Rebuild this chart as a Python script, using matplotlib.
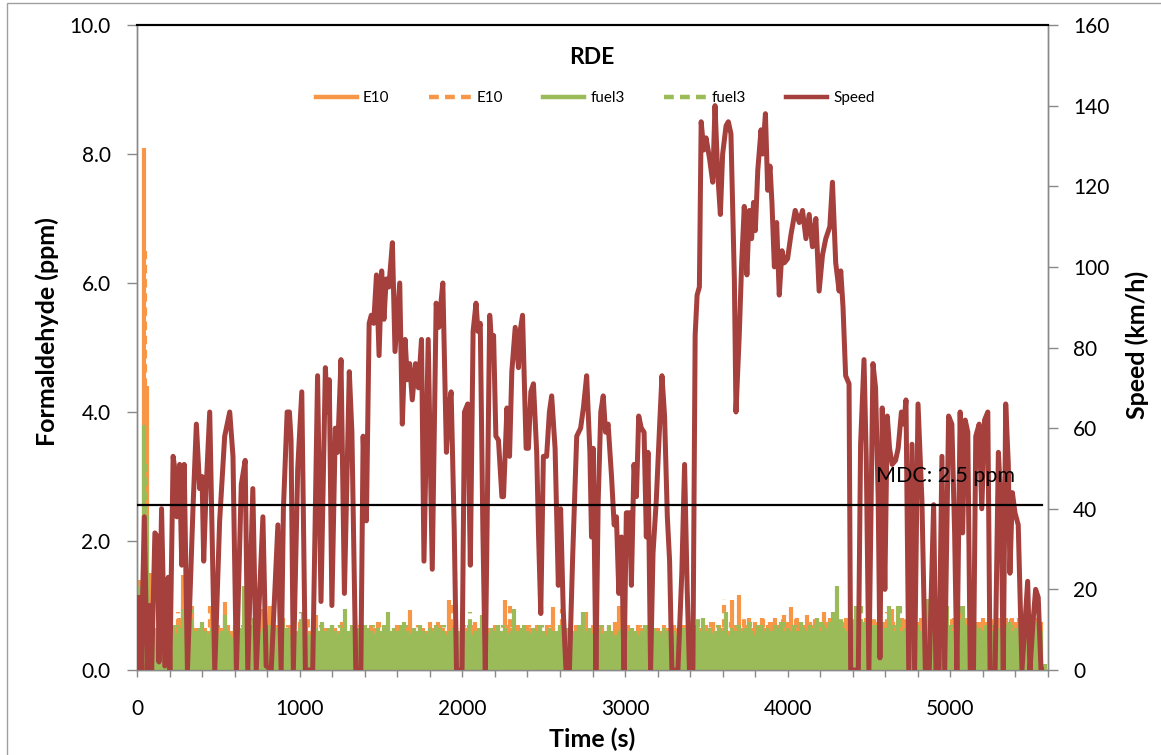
import numpy as np
import matplotlib
matplotlib.use("Agg")
import matplotlib.pyplot as plt
from matplotlib.lines import Line2D
from matplotlib.patches import Rectangle

plt.rcParams['font.family'] = ['Lato', 'DejaVu Sans']

ORANGE = '#F79646'
GREEN = '#9BBB59'
RED = '#A5403D'

# ---------------- data ----------------
speed_time = [0, 5, 15, 25, 45, 62, 79, 90, 110, 127, 135, 151, 171, 192, 202, 222, 232, 245, 262, 275,
              290, 310, 345, 365, 385, 400, 410, 425, 447, 478, 508, 539, 570, 590, 611, 641, 665, 681, 712, 733,
              774, 794, 825, 866, 886, 900, 923, 937, 947, 961, 988, 1013, 1035, 1080, 1110, 1131, 1158, 1170, 1182, 1198,
              1219, 1233, 1254, 1275, 1305, 1321, 1345, 1376, 1390, 1410, 1427, 1440, 1455, 1472, 1488, 1504, 1518, 1532, 1548, 1570,
              1586, 1615, 1631, 1648, 1662, 1676, 1692, 1712, 1730, 1749, 1764, 1790, 1815, 1839, 1855, 1866, 1880, 1902, 1917, 1931,
              1950, 1964, 1998, 2013, 2033, 2049, 2066, 2084, 2096, 2110, 2126, 2141, 2168, 2182, 2192, 2206, 2222, 2243, 2253, 2274,
              2290, 2304, 2325, 2345, 2355, 2370, 2392, 2406, 2421, 2437, 2457, 2468, 2482, 2498, 2518, 2535, 2549, 2570, 2590, 2604,
              2620, 2637, 2658, 2678, 2703, 2727, 2744, 2764, 2784, 2794, 2804, 2821, 2835, 2851, 2866, 2880, 2896, 2917, 2933, 2947,
              2962, 2978, 2994, 3008, 3029, 3039, 3055, 3070, 3084, 3100, 3117, 3131, 3141, 3157, 3172, 3192, 3213, 3227, 3243, 3260,
              3274, 3288, 3325, 3349, 3366, 3382, 3396, 3417, 3431, 3443, 3457, 3468, 3484, 3498, 3519, 3539, 3553, 3570, 3586, 3600,
              3621, 3635, 3651, 3672, 3682, 3702, 3717, 3733, 3749, 3764, 3778, 3790, 3801, 3816, 3836, 3846, 3863, 3877, 3891, 3903,
              3918, 3932, 3948, 3965, 3979, 3999, 4020, 4046, 4071, 4091, 4112, 4132, 4152, 4173, 4193, 4214, 4234, 4259, 4275, 4295,
              4316, 4326, 4340, 4356, 4377, 4387, 4434, 4448, 4469, 4483, 4499, 4524, 4540, 4556, 4567, 4581, 4597, 4612, 4626, 4642,
              4663, 4679, 4699, 4714, 4727, 4744, 4764, 4780, 4801, 4825, 4846, 4870, 4897, 4911, 4930, 4948, 4965, 4989, 5009, 5026,
              5040, 5060, 5075, 5091, 5107, 5122, 5142, 5156, 5177, 5193, 5210, 5230, 5244, 5275, 5295, 5311, 5325, 5340, 5356, 5366,
              5381, 5397, 5417, 5440, 5475, 5489, 5510, 5524, 5540, 5557, 5560]
speed_kmh = [0, 18, 18, 0, 38, 0, 16, 0, 34, 33, 2, 40, 1, 23, 0, 53, 50, 38, 51, 26,
             51, 0, 41, 61, 45, 48, 27, 45, 64, 0, 37, 58, 64, 53, 0, 46, 52, 0, 45, 0,
             38, 1, 0, 36, 0, 40, 64, 64, 57, 0, 50, 69, 0, 0, 73, 17, 75, 64, 72, 16,
             60, 54, 77, 19, 74, 59, 0, 0, 58, 37, 86, 88, 86, 98, 78, 99, 87, 97, 95, 106,
             79, 96, 61, 82, 72, 76, 67, 76, 70, 82, 27, 82, 25, 91, 85, 90, 96, 54, 65, 69,
             35, 0, 0, 64, 66, 26, 84, 91, 84, 86, 35, 0, 88, 80, 83, 58, 57, 43, 43, 65,
             53, 74, 85, 75, 84, 88, 55, 55, 69, 71, 54, 34, 14, 53, 53, 64, 68, 55, 21, 40,
             15, 0, 0, 28, 58, 60, 65, 73, 54, 33, 55, 0, 42, 64, 68, 59, 61, 48, 36, 38,
             19, 33, 0, 39, 39, 21, 51, 43, 63, 60, 59, 33, 54, 0, 29, 42, 61, 73, 63, 38,
             27, 0, 0, 24, 51, 20, 0, 0, 83, 93, 95, 136, 129, 132, 127, 121, 140, 123, 113, 128,
             135, 136, 133, 97, 64, 83, 101, 115, 98, 114, 107, 116, 109, 124, 134, 128, 138, 119, 125, 116,
             100, 111, 93, 104, 101, 102, 108, 114, 111, 114, 107, 113, 105, 112, 94, 103, 107, 110, 121, 101,
             94, 99, 90, 73, 71, 0, 0, 56, 77, 52, 0, 76, 70, 43, 3, 65, 20, 63, 55, 51,
             52, 55, 64, 61, 67, 0, 56, 0, 66, 42, 0, 0, 41, 0, 0, 53, 0, 63, 61, 34,
             0, 64, 34, 62, 59, 0, 0, 58, 61, 40, 62, 64, 0, 0, 54, 41, 0, 66, 51, 24,
             44, 39, 36, 0, 22, 0, 13, 20, 18, 0, 0]

# formaldehyde, sampled every 20 s (solid series) and every 40 s (dashed series)
e10 = [1.2, 1.4, 8.1, 4.4, 1.5, 0.7, 0.65, 0.6, 0.75, 0.6, 0.55, 0.65, 0.7, 0.8, 1.47, 0.7, 0.6, 1.0, 0.65, 0.6,
       0.7, 0.65, 0.6, 0.98, 0.6, 0.7, 0.65, 1.05, 0.7, 0.6, 0.65, 0.75, 0.6, 0.7, 0.85, 0.6, 0.65, 0.7, 0.9, 0.6,
       0.65, 1.0, 0.6, 0.7, 0.65, 0.8, 0.6, 0.7, 0.65, 0.6, 0.75, 0.65, 0.7, 0.6, 0.65, 0.85, 0.6, 0.7, 0.65, 0.6,
       0.7, 0.65, 0.6, 0.75, 0.7, 0.6, 0.65, 0.78, 0.6, 0.7, 0.65, 0.6, 0.7, 0.65, 0.75, 0.6, 0.65, 0.7, 0.6, 0.65,
       0.7, 0.65, 0.6, 0.7, 0.93, 0.65, 0.6, 0.7, 0.65, 0.6, 0.75, 0.65, 0.6, 0.7, 0.65, 0.6, 1.09, 0.7, 0.65, 0.6,
       0.7, 0.65, 0.6, 0.7, 0.75, 0.65, 0.6, 0.7, 0.65, 0.6, 0.7, 0.65, 0.6, 1.09, 0.7, 0.65, 0.6, 0.7, 0.65, 0.6,
       0.7, 0.65, 0.6, 0.7, 0.65, 0.6, 0.7, 0.65, 0.98, 0.6, 0.65, 0.7, 0.6, 0.65, 0.6, 0.7, 0.65, 0.6, 0.9, 0.65,
       0.7, 0.6, 0.65, 0.7, 0.6, 0.65, 0.6, 0.75, 1.0, 0.65, 0.6, 0.7, 0.65, 0.6, 0.7, 0.65, 0.6, 0.7, 0.65, 0.6,
       0.65, 0.6, 0.7, 0.65, 0.6, 0.7, 0.65, 0.6, 0.7, 0.65, 0.75, 0.6, 0.7, 0.65, 0.6, 0.7, 0.65, 0.75, 0.6, 0.7,
       0.65, 0.7, 0.6, 1.08, 0.7, 1.17, 0.65, 0.7, 0.8, 0.65, 0.75, 0.7, 0.8, 0.65, 0.7, 0.75, 0.8, 0.7, 0.75, 0.85,
       0.75, 0.97, 0.7, 0.8, 0.75, 0.7, 0.85, 0.75, 0.7, 0.8, 0.75, 0.9, 0.7, 0.8, 0.75, 0.85, 0.7, 0.75, 0.8, 0.7,
       0.75, 0.8, 0.7, 0.75, 0.8, 0.85, 0.7, 0.75, 0.8, 0.7, 0.75, 0.8, 0.95, 0.7, 0.75, 0.8, 0.7, 0.75, 0.8, 0.7,
       0.75, 0.8, 0.7, 0.75, 0.8, 0.7, 0.75, 0.8, 1.1, 0.75, 0.7, 0.8, 0.75, 0.95, 0.7, 0.8, 0.75, 0.8, 0.7, 0.75,
       0.8, 0.75, 0.8, 0.7, 0.75, 0.8, 0.75, 0.8, 0.7, 0.8, 0.75, 0.8, 0.85, 0.75, 0.8, 0.75, 0.8, 0.8, 0.75, 0.1]

fuel3 = [0.9, 1.3, 3.8, 2.4, 1.0, 0.45, 0.6, 0.55, 0.65, 0.5, 0.6, 0.7, 0.55, 0.65, 0.95, 0.6, 0.55, 0.7, 0.6, 0.65,
         0.75, 0.6, 0.5, 0.65, 0.7, 0.55, 0.6, 0.85, 0.6, 0.5, 0.7, 0.6, 0.65, 1.3, 0.6, 0.7, 0.8, 0.6, 0.55, 0.65,
         0.6, 0.7, 0.55, 0.65, 0.6, 0.75, 0.65, 0.55, 0.7, 0.6, 0.65, 0.9, 0.6, 0.55, 0.7, 0.65, 0.6, 0.75, 0.6, 0.65,
         0.7, 0.6, 0.55, 0.65, 0.95, 0.6, 0.7, 0.55, 0.65, 0.6, 0.7, 0.65, 0.6, 0.55, 0.65, 0.6, 0.7, 0.9, 0.6, 0.65,
         0.6, 0.7, 0.75, 0.6, 0.55, 0.65, 0.6, 0.7, 0.6, 0.55, 0.65, 0.6, 0.7, 0.65, 0.6, 0.55, 0.6, 0.65, 0.75, 0.6,
         0.65, 0.6, 0.7, 0.55, 0.6, 0.65, 0.85, 0.6, 0.55, 0.65, 0.6, 0.7, 0.6, 0.65, 0.55, 0.6, 0.95, 0.6, 0.65, 0.7,
         0.6, 0.55, 0.65, 0.6, 0.7, 0.6, 0.55, 0.65, 0.6, 0.6, 0.7, 0.55, 0.65, 0.6, 0.55, 0.6, 0.7, 0.9, 0.6, 0.65,
         0.55, 0.6, 0.65, 0.55, 0.6, 0.7, 0.6, 0.55, 0.6, 0.65, 0.55, 0.6, 0.65, 0.6, 0.55, 0.6, 0.7, 0.55, 0.6, 0.65,
         0.6, 0.55, 0.65, 0.6, 0.5, 0.6, 0.55, 0.6, 0.65, 0.55, 0.6, 0.65, 0.7, 0.6, 0.8, 0.6, 0.65, 0.55, 0.6, 0.65,
         0.6, 0.9, 0.55, 0.65, 0.6, 0.7, 0.6, 0.65, 0.75, 0.6, 0.55, 0.65, 0.7, 0.6, 0.65, 0.6, 0.7, 0.65, 0.75, 0.6,
         0.65, 0.6, 0.7, 0.6, 0.75, 0.65, 0.6, 0.7, 0.65, 0.8, 0.6, 0.7, 0.65, 0.75, 0.9, 1.3, 0.7, 0.65, 0.6, 0.7,
         0.65, 1.0, 0.6, 0.7, 0.75, 0.6, 0.65, 0.7, 0.6, 0.75, 0.65, 1.0, 0.7, 0.6, 1.0, 0.6, 0.65, 0.6, 0.7, 0.6,
         0.7, 0.6, 0.65, 1.1, 0.7, 0.65, 0.6, 0.7, 0.65, 1.0, 0.7, 0.6, 0.65, 0.75, 1.0, 0.7, 0.65, 0.6, 0.7, 0.65,
         0.6, 0.7, 0.65, 0.6, 0.7, 0.65, 0.6, 0.7, 0.75, 0.6, 0.65, 0.7, 0.6, 0.65, 0.6, 0.7, 0.65, 0.75, 0.6, 0.1]

e10_dash = [1.0, 6.5, 1.2, 0.6, 0.7, 0.65, 0.9, 0.6, 0.7, 0.65, 0.6, 1.0, 0.7, 0.65, 0.6, 0.9, 0.7, 0.6, 0.65, 0.95,
            0.7, 0.6, 0.65, 0.7, 0.6, 0.65, 0.8, 0.6, 0.7, 0.65, 0.6, 0.7, 0.65, 0.6, 0.7, 0.65, 0.6, 0.75, 0.65, 0.6,
            0.7, 0.65, 0.6, 0.7, 0.65, 0.6, 0.75, 0.65, 1.05, 0.6, 0.7, 0.65, 0.6, 0.7, 0.65, 0.6, 0.7, 1.0, 0.65, 0.6,
            0.7, 0.6, 0.65, 0.7, 0.6, 0.95, 0.65, 0.6, 0.7, 0.65, 0.6, 0.7, 0.65, 0.6, 0.95, 0.65, 0.6, 0.7, 0.65, 0.6,
            0.65, 0.6, 0.7, 0.65, 0.6, 0.7, 0.65, 0.6, 0.75, 0.7, 1.1, 0.75, 0.7, 0.8, 0.75, 0.7, 0.8, 0.75, 0.7, 0.8,
            0.75, 0.8, 0.7, 0.75, 0.8, 0.7, 0.75, 0.85, 0.7, 0.75, 0.8, 0.7, 0.75, 0.8, 0.7, 0.9, 0.75, 0.7, 0.8, 0.75,
            0.7, 0.8, 0.75, 1.05, 0.7, 0.8, 0.75, 0.7, 0.8, 0.75, 0.7, 0.8, 0.75, 0.7, 0.8, 0.75, 0.8, 0.7, 0.75, 0.1]

fuel3_dash = [0.9, 3.2, 1.0, 0.55, 0.6, 0.65, 0.7, 0.6, 0.95, 0.55, 0.6, 0.65, 0.7, 0.6, 0.55, 0.9, 0.6, 0.65, 0.7, 0.6,
              0.65, 0.6, 0.7, 0.55, 0.6, 0.9, 0.65, 0.6, 0.55, 0.65, 0.6, 0.7, 0.6, 0.55, 0.65, 0.6, 0.7, 0.6, 0.55, 0.65,
              0.6, 0.7, 0.65, 0.55, 0.6, 0.65, 0.6, 0.7, 0.6, 0.55, 0.65, 0.9, 0.6, 0.55, 0.65, 0.6, 0.7, 0.6, 0.65, 0.55,
              0.6, 0.65, 0.7, 0.6, 0.55, 0.6, 0.65, 0.6, 0.55, 0.65, 0.6, 0.7, 0.6, 0.55, 0.6, 0.65, 0.6, 0.55, 0.6, 0.65,
              0.6, 0.55, 0.6, 0.65, 0.6, 0.55, 0.85, 0.6, 0.65, 0.7, 0.6, 0.65, 0.7, 0.6, 0.65, 0.7, 0.6, 0.65, 0.7, 0.75,
              0.65, 0.7, 0.6, 0.65, 0.7, 0.75, 0.65, 0.7, 0.8, 0.65, 0.7, 1.0, 0.65, 0.7, 0.6, 0.65, 0.7, 1.0, 0.65, 0.7,
              0.65, 1.0, 0.7, 0.65, 0.6, 0.7, 1.0, 0.65, 0.7, 0.6, 0.65, 0.7, 0.6, 0.65, 0.7, 0.6, 0.65, 0.7, 0.6, 0.1]

mdc_ppm = 2.56
mdc_label = "MDC: 2.5 ppm"
legend_labels = ["E10", "E10", "fuel3", "fuel3", "Speed"]

# sampling grids
t_solid = np.arange(len(e10)) * 20
t_solid_f3 = np.arange(len(fuel3)) * 20
t_dash_e10 = np.arange(len(e10_dash)) * 40 + 10
t_dash_f3 = np.arange(len(fuel3_dash)) * 40 + 10

# ---------------- figure ----------------
W, H = 1161, 755
fig = plt.figure(figsize=(W / 100, H / 100), dpi=100)
fig.patches.append(Rectangle((7 / W, -0.01), 1.05, 1 - 3 / H + 0.01, transform=fig.transFigure,
                             fill=False, edgecolor='#A0A0A0', lw=1.0))

L, R, T, B = 137, 1048, 25, 670
ax = fig.add_axes([L / W, 1 - B / H, (R - L) / W, (B - T) / H])
ax2 = ax.twinx()

lw_fh = 3.0
ax.vlines(t_solid, 0, e10, color=ORANGE, lw=lw_fh, zorder=2)
ax.vlines(t_dash_e10, 0, e10_dash, color=ORANGE, lw=lw_fh, linestyles=(0, (2.0, 1.4)), zorder=2)
ax.vlines(t_solid_f3, 0, fuel3, color=GREEN, lw=lw_fh, zorder=3)
ax.vlines(t_dash_f3, 0, fuel3_dash, color=GREEN, lw=lw_fh, linestyles=(0, (2.0, 1.4)), zorder=3)

ax2.plot(speed_time, speed_kmh, color=RED, lw=3.6, solid_joinstyle='round', zorder=3)

# MDC line and label on top of everything (ppm coordinates)
ax2.plot([0, 5565], [mdc_ppm, mdc_ppm], transform=ax.transData, color='black', lw=1.6, zorder=5)
ax2.text(4542, 2.91, mdc_label, transform=ax.transData, fontsize=15.5, ha='left', va='baseline',
         color='black', zorder=6)

ax.set_xlim(0, 5600)
ax.set_ylim(0, 10)
ax2.set_ylim(0, 160)

ax.set_xticks(np.arange(0, 6000, 1000))
ax.set_xticks(np.arange(0, 5601, 200), minor=True)
ax.set_yticks(np.arange(0, 10.1, 2))
ax.set_yticklabels([f"{v:.1f}" for v in np.arange(0, 10.1, 2)])
ax2.set_yticks(np.arange(0, 161, 20))

GRAY = '#898989'
for a in (ax, ax2):
    for s in ('left', 'right', 'bottom'):
        a.spines[s].set_color(GRAY)
        a.spines[s].set_linewidth(1.0)
    a.spines['top'].set_color('black')
    a.spines['top'].set_linewidth(1.5)

ax.tick_params(axis='x', which='both', direction='out', length=5, width=1, color=GRAY,
               labelsize=15, pad=16)
ax.tick_params(axis='y', direction='out', length=7, width=1, color=GRAY, labelsize=15, pad=12)
ax2.tick_params(axis='y', direction='out', length=7, width=1, color=GRAY, labelsize=15, pad=11)

fig.text(47 / W, 1 - 332 / H, "Formaldehyde (ppm)", rotation=90, ha='center', va='center',
         fontsize=18, fontweight='bold')
fig.text(1137 / W, 1 - 345 / H, "Speed (km/h)", rotation=90, ha='center', va='center',
         fontsize=18, fontweight='bold')
fig.text(592 / W, 1 - 739 / H, "Time (s)", ha='center', va='center', fontsize=18, fontweight='bold')

ax2.text(0.499, 0.949, "RDE", transform=ax.transAxes, ha='center', va='center', fontsize=16.5,
         fontweight='bold', zorder=6)

handles = [Line2D([], [], color=ORANGE, lw=3.2),
           Line2D([], [], color=ORANGE, lw=3.2, ls=(0, (2.2, 1.4))),
           Line2D([], [], color=GREEN, lw=3.2),
           Line2D([], [], color=GREEN, lw=3.2, ls=(0, (2.2, 1.4))),
           Line2D([], [], color=RED, lw=3.2)]
leg = ax2.legend(handles, legend_labels, loc='center', bbox_to_anchor=(0.503, 0.887), ncol=5,
                 frameon=False, fontsize=11, handlelength=2.7, handletextpad=0.4,
                 columnspacing=2.6)
leg.set_zorder(7)

fig.savefig("out.png", dpi=100)
